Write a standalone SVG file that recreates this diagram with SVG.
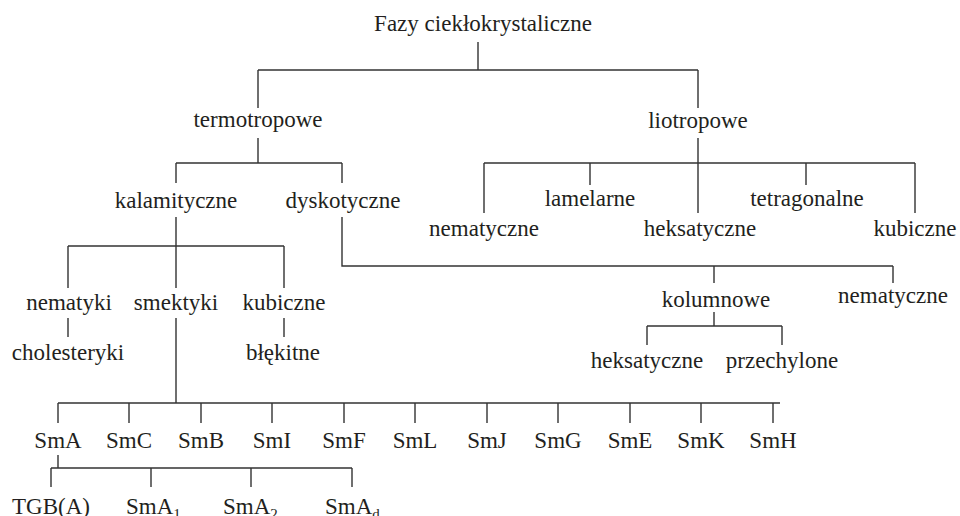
<svg xmlns="http://www.w3.org/2000/svg" width="960" height="516" viewBox="0 0 960 516">
<style>
text{font-family:"Liberation Serif","Times New Roman",serif;font-size:23px;fill:#231f20;text-anchor:middle}
text.s{text-anchor:start}
.sub{font-size:15px}
#connectors path{fill:none;stroke:#333;stroke-width:1.4}
</style>
<rect width="960" height="516" fill="#fff"/>
<g id="connectors">
<path d="M478 42V70M258 70H698M258 70V108M698 70V108"/>
<path d="M258 138V163M176 163H342M176 163V183M342 163V183"/>
<path d="M698 138V163M484 163H915M484 163V213M590 163V185M698 163V213M806 163V185M915 163V213"/>
<path d="M176 217V246M68 246H284M68 246V288M176 246V288M284 246V288"/>
<path d="M68 318V337M284 318V337"/>
<path d="M176 318V403M58 403H780M58 403V423M129 403V423M201 403V423M272 403V423M344 403V423M415 403V423M487 403V423M558 403V423M630 403V423M701 403V423M773 403V423"/>
<path d="M58 455V468M51 468H352M51 468V487M151 468V487M251 468V487M352 468V487"/>
<path d="M342 217V266H893M714 266V283M893 266V283"/>
<path d="M714 312V326M647 326H782M647 326V345M782 326V345"/>
</g>
<g id="root"><text x="483" y="31">Fazy ciekłokrystaliczne</text></g>
<g id="termotropowe"><text x="258" y="127">termotropowe</text></g>
<g id="liotropowe"><text x="698" y="128">liotropowe</text></g>
<g id="kalamityczne"><text x="176" y="208">kalamityczne</text></g>
<g id="dyskotyczne"><text x="343" y="208">dyskotyczne</text></g>
<g id="lio-nematyczne"><text x="484" y="236">nematyczne</text></g>
<g id="lio-lamelarne"><text x="590" y="206">lamelarne</text></g>
<g id="lio-heksatyczne"><text x="700" y="236">heksatyczne</text></g>
<g id="lio-tetragonalne"><text x="807" y="206">tetragonalne</text></g>
<g id="lio-kubiczne"><text x="915" y="236">kubiczne</text></g>
<g id="nematyki"><text x="69" y="310">nematyki</text></g>
<g id="smektyki"><text x="176" y="310">smektyki</text></g>
<g id="kal-kubiczne"><text x="284" y="310">kubiczne</text></g>
<g id="cholesteryki"><text x="68" y="360">cholesteryki</text></g>
<g id="blekitne"><text x="283" y="360">błękitne</text></g>
<g id="kolumnowe"><text x="716" y="307">kolumnowe</text></g>
<g id="dys-nematyczne"><text x="893" y="303">nematyczne</text></g>
<g id="kol-heksatyczne"><text x="647" y="368">heksatyczne</text></g>
<g id="przechylone"><text x="782" y="368">przechylone</text></g>
<g id="SmA"><text x="58" y="448">SmA</text></g>
<g id="SmC"><text x="129" y="448">SmC</text></g>
<g id="SmB"><text x="201" y="448">SmB</text></g>
<g id="SmI"><text x="272" y="448">SmI</text></g>
<g id="SmF"><text x="344" y="448">SmF</text></g>
<g id="SmL"><text x="415" y="448">SmL</text></g>
<g id="SmJ"><text x="487" y="448">SmJ</text></g>
<g id="SmG"><text x="558" y="448">SmG</text></g>
<g id="SmE"><text x="630" y="448">SmE</text></g>
<g id="SmK"><text x="701" y="448">SmK</text></g>
<g id="SmH"><text x="773" y="448">SmH</text></g>
<g id="TGBA"><text x="51" y="514">TGB(A)</text></g>
<g id="SmA1"><text class="s" x="126" y="514">SmA<tspan class="sub" dy="5">1</tspan></text></g>
<g id="SmA2"><text class="s" x="223" y="514">SmA<tspan class="sub" dy="5">2</tspan></text></g>
<g id="SmAd"><text class="s" x="325" y="514">SmA<tspan class="sub" dy="5">d</tspan></text></g>
</svg>
